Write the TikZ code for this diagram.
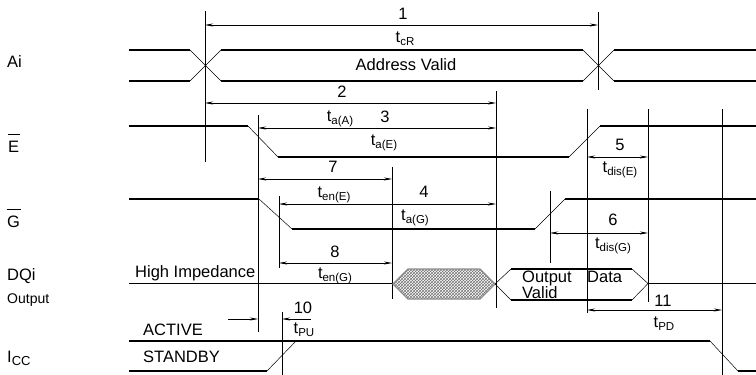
\documentclass[tikz,border=0pt]{standalone}
\usepackage{fontspec}
\setmainfont{Liberation Sans}
\usetikzlibrary{arrows.meta,patterns}
\newcommand{\tsb}[1]{t\raisebox{-3pt}{\fontsize{11.5}{12}\selectfont #1}}
\begin{document}
\begin{tikzpicture}[x=1pt,y=-1pt,
  font=\fontsize{16.5}{18}\selectfont,
  sig/.style={line width=1.4pt},
  trn/.style={line width=0.5pt},
  vln/.style={line width=0.8pt},
  dd/.style={line width=0.6pt,{Stealth[length=8pt,width=3pt]}-{Stealth[length=8pt,width=3pt]}},
  sd/.style={line width=0.6pt,-{Stealth[length=8pt,width=3pt]}},
  lb/.style={inner sep=0pt,anchor=base},
  lw/.style={inner sep=0pt,anchor=base west},
  obar/.style={line width=0.8pt}]
\useasboundingbox (0,0) rectangle (756,375);

% ---------- left labels
\node[lw] (lAi) at (7,67) {Ai};
\node[lw] (lE) at (8,152) {E};
\draw[obar] ([xshift=-0.5pt,yshift=6pt]lE.north west) -- ([xshift=0.5pt,yshift=6pt]lE.north east);
\node[lw] (lG) at (7,227) {G};
\draw[obar] ([xshift=-0.5pt,yshift=6pt]lG.north west) -- ([xshift=0.5pt,yshift=6pt]lG.north east);
\node[lw] (lDQ) at (7,280) {DQi};
\node[lw,font=\fontsize{14}{16}\selectfont] (lOut) at (7,303) {Output};
\node[lw] (lI) at (7,362) {I\raisebox{-3pt}{\fontsize{13}{14}\selectfont CC}};

% ---------- vertical reference lines
\draw[vln] (205,11) -- (205,162);
\draw[vln] (598,12) -- (598,90);
\draw[vln] (496,91) -- (496,308);
\draw[vln] (258,115) -- (258,332);
\draw[vln] (587,109) -- (587,313);
\draw[vln] (648,109) -- (648,302);
\draw[vln] (722,109) -- (722,375);
\draw[vln] (392,167) -- (392,299);
\draw[vln] (279,196) -- (279,268);
\draw[vln] (550,191) -- (550,263);
\draw[vln] (282,312) -- (282,375);

% ---------- Ai
\draw[sig] (129,50) -- (190,50);
\draw[sig] (129,81) -- (190,81);
\draw[trn] (190,50) -- (221,81) (190,81) -- (221,50);
\draw[sig] (221,50) -- (583,50);
\draw[sig] (221,81) -- (583,81);
\draw[trn] (583,50) -- (614,81) (583,81) -- (614,50);
\draw[sig] (614,50) -- (756,50);
\draw[sig] (614,81) -- (756,81);
\node[lb] (tAV) at (406,70) {Address Valid};

% ---------- E
\draw[sig] (129,126) -- (248,126);
\draw[trn] (248,126) -- (278,157);
\draw[sig] (278,157) -- (569,157);
\draw[trn] (569,157) -- (600,126);
\draw[sig] (600,126) -- (756,126);

% ---------- G
\draw[sig] (129,199) -- (259,199);
\draw[trn] (259,199) -- (292,229);
\draw[sig] (292,229) -- (535,229);
\draw[trn] (535,229) -- (565,199);
\draw[sig] (565,199) -- (756,199);

% ---------- DQi
\draw[sig] (129,283.5) -- (393,283.5);
\node[lw] (tHI) at (135,277) {High Impedance};
\draw[pattern=crosshatch,pattern color=black!55,draw=black!45,line width=1.2pt]
  (393,284) -- (408,269) -- (480,269) -- (495,284) -- (480,299) -- (408,299) -- cycle;
\draw[trn] (495,284) -- (511,269) (495,284) -- (511,300);
\draw[sig] (511,269) -- (632,269);
\draw[sig] (511,300) -- (632,300);
\draw[trn] (632,269) -- (648,283.5) -- (632,300);
\draw[sig] (648,283.5) -- (756,283.5);
\node[lw] (tOut) at (522,282) {Output};
\node[lw] (tData) at (587,282) {Data};
\node[lw] (tVal) at (522,298) {Valid};

% ---------- ICC
\draw[sig] (129,341) -- (710,341);
\draw[trn] (710,341) -- (738,371);
\draw[sig] (738,371) -- (756,371);
\draw[sig] (129,371) -- (267,371);
\draw[trn] (267,371) -- (296,341);
\node[lw] (tAct) at (143,335) {ACTIVE};
\node[lw] (tSt) at (143,362) {STANDBY};

% ---------- timing dimensions
\draw[dd] (205,25) -- (598,25);
\node[lb] (n1) at (403,19) {1};
\node[lb] (s1) at (405,42) {\tsb{cR}};

\draw[dd] (205,103) -- (496,103);
\node[lb] (n2) at (342,97) {2};
\node[lb] (s2) at (340,121) {\tsb{a(A)}};

\draw[dd] (258,128) -- (496,128);
\node[lb] (n3) at (385,122) {3};
\node[lb] (s3) at (384,145) {\tsb{a(E)}};

\draw[dd] (258,179) -- (392,179);
\node[lb] (n7) at (333,172) {7};
\node[lb] (s7) at (334,197) {\tsb{en(E)}};

\draw[dd] (279,204) -- (496,204);
\node[lb] (n4) at (424,197) {4};
\node[lb] (s4) at (415,220) {\tsb{a(G)}};

\draw[dd] (587,157) -- (648,157);
\node[lb] (n5) at (620,150) {5};
\node[lb] (s5) at (620,172) {\tsb{dis(E)}};

\draw[dd] (550,233) -- (648,233);
\node[lb] (n6) at (613,225) {6};
\node[lb] (s6) at (613,248) {\tsb{dis(G)}};

\draw[dd] (279,263) -- (392,263);
\node[lb] (n8) at (335,257) {8};
\node[lb] (s8) at (335,278) {\tsb{en(G)}};

\draw[dd] (587,310) -- (722,310);
\node[lb] (n11) at (663,306) {11};
\node[lb] (s11) at (664,327) {\tsb{PD}};

\draw[sd] (228,319) -- (258,319);
\draw[sd] (311,319) -- (282,319);
\node[lb] (n10) at (303,313) {10};
\node[lb] (s10) at (304,333) {\tsb{PU}};
\end{tikzpicture}
\end{document}
